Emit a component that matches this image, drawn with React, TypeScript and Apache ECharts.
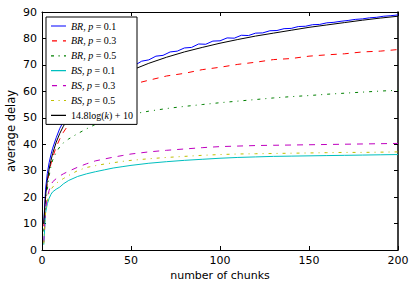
import React, { useEffect, useRef } from "react";
import * as echarts from "echarts";

// ---- data ----
const kSmooth = [1, 2, 3, 4, 5, 6, 8, 10, 12, 15, 20, 25, 30, 35, 40, 45, 50, 60, 70, 80, 90, 100, 110, 120, 130, 140, 150, 160, 170, 180, 190, 200];

const kBR01 = [1, 2, 3, 4, 5, 6, 8, 10, 12, 15, 20, 25, 30, 35, 40, 44, 48, 52, 56, 60, 64, 68, 72, 76, 80, 84, 88, 92, 96, 100, 104, 108, 112, 116, 120, 124, 128, 132, 136, 140, 144, 148, 152, 156, 160, 164, 168, 172, 176, 180, 184, 188, 192, 196, 200];
const br01 = [10, 23, 29, 33, 36, 38.5, 42.5, 46, 48.5, 52, 56.5, 59.5, 62, 64.2, 66.3, 67.2, 69.0, 69.8, 71.4, 71.9, 73.3, 73.6, 74.9, 75.2, 76.4, 76.6, 77.9, 77.8, 79.0, 79.1, 80.2, 80.1, 81.2, 81.1, 82.0, 82.1, 82.9, 83.0, 83.7, 83.8, 84.5, 84.6, 85.2, 85.3, 85.9, 86.1, 86.5, 86.8, 87.2, 87.4, 87.8, 88.0, 88.4, 88.6, 88.9];

const br03 = [9, 19.5, 25.5, 29.5, 32.5, 35, 39, 42, 44.5, 47.5, 51.5, 54.5, 56.5, 58.5, 60, 61.5, 62.5, 64.2, 65.8, 66.8, 68.2, 69.1, 70.2, 71.0, 72.0, 72.4, 73.3, 73.8, 74.2, 74.9, 75.2, 75.8];
const br05 = [7, 17, 23, 28, 31.5, 34, 37, 39, 40.5, 42, 44, 45.8, 47.5, 49, 50, 50.7, 51.3, 52.5, 53.5, 54.3, 55, 55.7, 56.3, 56.9, 57.5, 58, 58.4, 58.9, 59.3, 59.7, 60.1, 60.4];
const bs01 = [2, 14, 17.5, 19.5, 21, 22, 23, 23.8, 25, 26.3, 27.8, 28.8, 29.6, 30.3, 31, 31.5, 32, 32.8, 33.4, 33.9, 34.3, 34.7, 35, 35.2, 35.4, 35.5, 35.6, 35.7, 35.8, 35.9, 36, 36.1];
const bs03 = [3, 15, 20, 22.5, 24.5, 25.8, 27, 28, 28.8, 29.8, 31.3, 32.6, 33.7, 34.4, 35.1, 35.7, 36.3, 37.1, 37.7, 38.2, 38.7, 39.1, 39.3, 39.5, 39.6, 39.7, 39.8, 39.9, 40.0, 40.1, 40.2, 40.3];
const bs05 = [2.5, 14, 18.5, 21.5, 22.8, 23.8, 25.2, 26.2, 27, 28.2, 30, 31.2, 31.9, 32.5, 33, 33.5, 33.9, 34.5, 35, 35.4, 35.8, 36.1, 36.3, 36.4, 36.5, 36.6, 36.7, 36.8, 36.9, 36.9, 37, 37.1];
const fitLog = [10, 20.3, 26.3, 30.5, 33.8, 36.5, 40.8, 44.1, 46.8, 50.1, 54.3, 57.6, 60.3, 62.6, 64.6, 66.3, 67.9, 70.6, 72.9, 74.9, 76.6, 78.2, 79.6, 80.9, 82.0, 83.1, 84.2, 85.1, 86.0, 86.9, 87.7, 88.4];

const xTicks = { min: 0, max: 200, interval: 50 };
const yTicks = { min: 0, max: 90, interval: 10 };

const seriesNames = ["BR, p=0.1", "BR, p=0.3", "BR, p=0.5", "BS, p=0.1", "BS, p=0.3", "BS, p=0.5", "fit"];

const zip = (xs: number[], ys: number[]) => xs.map((x, i) => [x, ys[i]]);

// legend sample icons (15 x 10 box, thin bar through the middle)
const frame = "M0,0h0.01v0.01h-0.01z M15,10h0.01v0.01h-0.01z ";
const bar = (a: number, b: number) => `M${a},4.4h${b - a}v1.2h${a - b}z `;
const iconSolid = "path://" + frame + bar(0, 15);
const iconDash = "path://" + frame + bar(1, 6) + bar(12, 15);
const iconDashDot = "path://" + frame + bar(0, 3) + bar(7.5, 8.7) + bar(13, 15);

export default function App() {
  const ref = useRef<HTMLDivElement>(null);
  useEffect(() => {
    if (!ref.current) return;
    const chart = echarts.init(ref.current, null, { renderer: "svg" });
    const axisFont = { fontFamily: "DejaVu Sans", fontSize: 11, color: "#000" };
    const mk = (name: string, xs: number[], ys: number[], color: string, type: any) => ({
      name,
      type: "line",
      data: zip(xs, ys),
      symbol: "none",
      smooth: false,
      lineStyle: { color, width: 1, type },
      itemStyle: { color },
      xAxisIndex: 0,
      yAxisIndex: 0,
    });
    const fmt = (name: string) => {
      if (name === "fit") return "14.8log({i|k}) + 10";
      const [a, b] = name.split(", ");
      const v = b.split("=")[1];
      return `{i|${a}}, {i|p} = ${v}`;
    };
    const icons = [iconSolid, iconDash, iconDashDot, iconSolid, iconDash, iconDashDot, iconSolid];
    const colors = ["#0000ff", "#ff0000", "#008000", "#00bfbf", "#bf00bf", "#bfbf00", "#000000"];
    chart.setOption({
      animation: false,
      grid: { left: 42, right: 18, top: 12, bottom: 39, containLabel: false, outerBoundsMode: "none" },
      legend: {
        data: seriesNames.map((n, i) => ({
          name: n,
          icon: icons[i],
          itemStyle: { color: colors[i], borderWidth: 0 },
          lineStyle: { width: 0, opacity: 0 },
        })),
        orient: "vertical",
        left: 46,
        top: 17,
        padding: [4, 4, 4, 5],
        itemGap: 4.9,
        itemWidth: 15,
        itemHeight: 10,
        borderColor: "#000",
        borderWidth: 1,
        borderRadius: 0,
        backgroundColor: "#fff",
        formatter: fmt,
        textStyle: {
          fontFamily: "Liberation Serif",
          fontSize: 10,
          color: "#000",
          rich: { i: { fontFamily: "Liberation Serif", fontStyle: "italic", fontSize: 10, color: "#000" } },
        },
      },
      xAxis: [
        {
          type: "value",
          ...xTicks,
          position: "bottom",
          name: "number of chunks",
          nameLocation: "middle",
          nameGap: 20,
          nameMoveOverlap: false,
          nameTextStyle: { ...axisFont, fontSize: 11 },
          axisLine: { show: true, lineStyle: { color: "#000", width: 1 } },
          axisTick: { show: true, inside: true, length: 4, lineStyle: { color: "#000" } },
          axisLabel: { ...axisFont, margin: 5 },
          splitLine: { show: false },
        },
        {
          type: "value",
          ...xTicks,
          position: "top",
          axisLine: { show: true, onZero: false, lineStyle: { color: "#000", width: 1 } },
          axisTick: { show: true, inside: true, length: 4, lineStyle: { color: "#000" } },
          axisLabel: { show: false },
          splitLine: { show: false },
        },
      ],
      yAxis: [
        {
          type: "value",
          ...yTicks,
          position: "left",
          name: "average delay",
          nameLocation: "middle",
          nameGap: 25,
          nameMoveOverlap: false,
          nameTextStyle: { ...axisFont, fontSize: 11.5 },
          axisLine: { show: true, lineStyle: { color: "#000", width: 1 } },
          axisTick: { show: true, inside: true, length: 4, lineStyle: { color: "#000" } },
          axisLabel: { ...axisFont, margin: 5 },
          splitLine: { show: false },
        },
        {
          type: "value",
          ...yTicks,
          position: "right",
          axisLine: { show: true, onZero: false, lineStyle: { color: "#000", width: 1.5 } },
          axisTick: { show: true, inside: true, length: 4, lineStyle: { color: "#000" } },
          axisLabel: { show: false },
          splitLine: { show: false },
        },
      ],
      series: [
        mk(seriesNames[0], kBR01, br01, colors[0], "solid"),
        mk(seriesNames[1], kSmooth, br03, colors[1], [6, 6]),
        mk(seriesNames[2], kSmooth, br05, colors[2], [3, 5, 1, 5]),
        mk(seriesNames[3], kSmooth, bs01, colors[3], "solid"),
        mk(seriesNames[4], kSmooth, bs03, colors[4], [6, 6]),
        mk(seriesNames[5], kSmooth, bs05, colors[5], [3, 5, 1, 5]),
        mk(seriesNames[6], kSmooth, fitLog, colors[6], "solid"),
      ],
    });
    return () => chart.dispose();
  }, []);
  return <div ref={ref} style={{ width: 416, height: 289, position: "absolute", left: 0, top: 0 }} />;
}
